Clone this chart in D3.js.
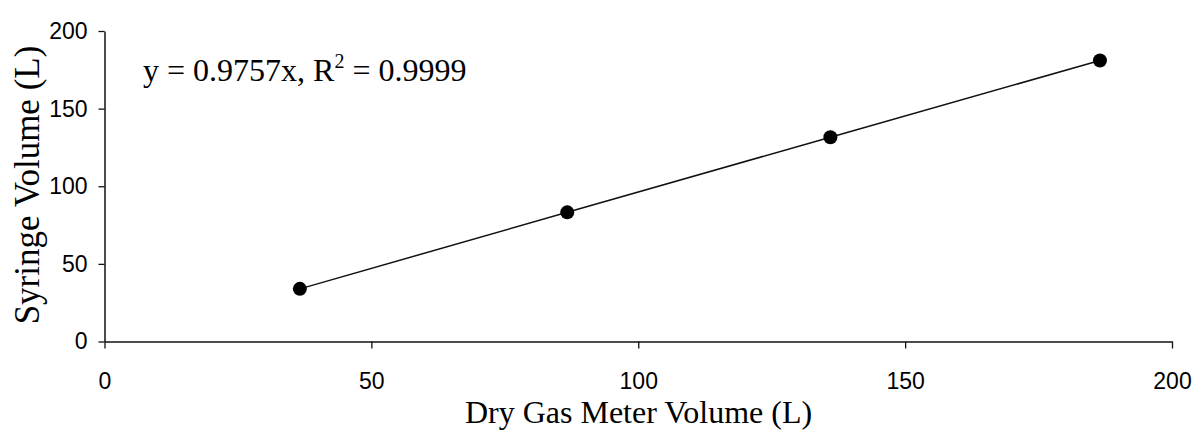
<!DOCTYPE html>
<html>
<head>
<meta charset="utf-8">
<script src="https://cdn.jsdelivr.net/npm/d3@7"></script>
<style>
  html, body { margin: 0; padding: 0; background: #fff; }
  svg { display: block; }
</style>
</head>
<body>
<div id="chart"></div>
<script>
// ---- data ----
const dryGasMeter = [36.6, 86.7, 136.0, 186.5];
const syringe = [33.9, 83.2, 131.6, 181.0];
const xTicks = [0, 50, 100, 150, 200];
const yTicks = [0, 50, 100, 150, 200];
const xTitle = "Dry Gas Meter Volume (L)";
const yTitle = "Syringe Volume (L)";
const eqMain = "y = 0.9757x, R";
const eqSup = "2";
const eqTail = " = 0.9999";

const W = 1200, H = 431;
const svg = d3.select("#chart").append("svg").attr("width", W).attr("height", H);

const x = d3.scaleLinear().domain([0, 200]).range([104.5, 1172]);
const y = d3.scaleLinear().domain([0, 200]).range([341.5, 31]);

const sans = "Arial, 'Liberation Sans', sans-serif";
const serif = "'Times New Roman', 'Liberation Serif', serif";

// axes
const xAxis = svg.append("g").attr("transform", `translate(0,${y(0)})`)
  .call(d3.axisBottom(x).tickValues(xTicks).tickSize(7).tickSizeOuter(0).tickPadding(24));
const yAxis = svg.append("g").attr("transform", `translate(${x(0)},0)`)
  .call(d3.axisLeft(y).tickValues(yTicks).tickSize(6).tickSizeOuter(0).tickPadding(11));

[xAxis, yAxis].forEach(g => {
  g.selectAll("path.domain").attr("stroke", "#111").attr("stroke-width", 1.5);
  g.selectAll(".tick line").attr("stroke", "#111").attr("stroke-width", 1.3);
  g.selectAll(".tick text").attr("fill", "#000")
    .style("font-family", sans).style("font-size", "23px");
});

// data
const pts = dryGasMeter.map((d, i) => [d, syringe[i]]);
svg.append("path")
  .datum(pts)
  .attr("fill", "none")
  .attr("stroke", "#111")
  .attr("stroke-width", 1.5)
  .attr("d", d3.line().x(d => x(d[0])).y(d => y(d[1])));

svg.selectAll("circle.pt").data(pts).enter().append("circle")
  .attr("class", "pt")
  .attr("cx", d => x(d[0])).attr("cy", d => y(d[1]))
  .attr("r", 7).attr("fill", "#000");

// equation
const eq = svg.append("text")
  .attr("x", 143).attr("y", 81)
  .style("font-family", serif).style("font-size", "32px").attr("fill", "#000");
eq.append("tspan").text(eqMain);
eq.append("tspan").attr("dy", -13).style("font-size", "20px").text(eqSup);
eq.append("tspan").attr("dy", 13).text(eqTail);

// titles
svg.append("text")
  .attr("x", 638.5).attr("y", 423)
  .attr("text-anchor", "middle")
  .style("font-family", serif).style("font-size", "32px").attr("fill", "#000")
  .text(xTitle);

svg.append("text")
  .attr("transform", "translate(38.5,185) rotate(-90)")
  .attr("text-anchor", "middle")
  .style("font-family", serif).style("font-size", "35px").attr("fill", "#000")
  .text(yTitle);
</script>
</body>
</html>
